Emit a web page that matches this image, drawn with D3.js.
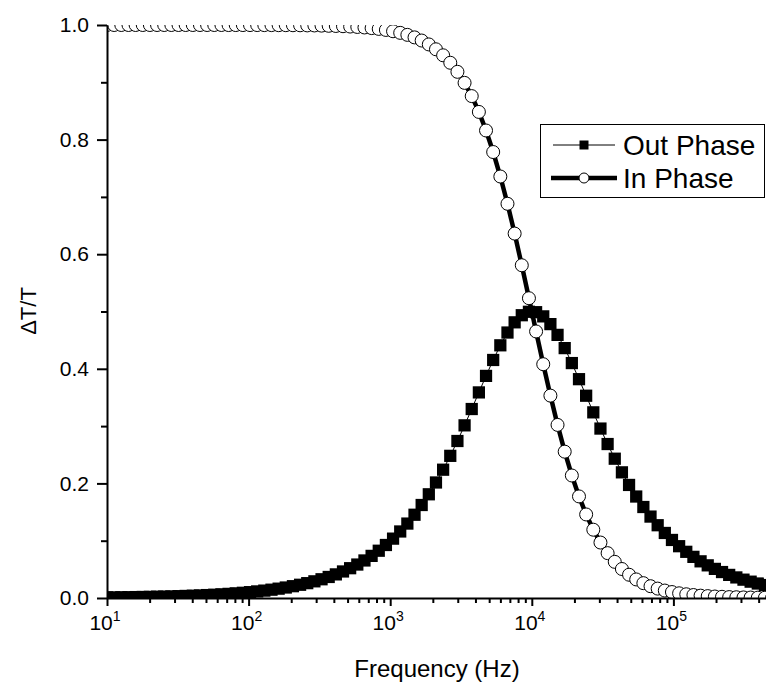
<!DOCTYPE html>
<html>
<head>
<meta charset="utf-8">
<script src="https://cdn.jsdelivr.net/npm/d3@7"></script>
<style>
html,body{margin:0;padding:0;background:#fff;}
svg{display:block;font-family:"Liberation Sans",Arial,Helvetica,sans-serif;}
</style>
</head>
<body>
<svg id="chart" width="766" height="694"></svg>
<script>
// Frequency grid (Hz)
const frequency = [
  10,11.23,12.62,14.18,15.92,17.89,20.09,22.57,25.35,28.48,
  31.99,35.94,40.37,45.35,50.94,57.22,64.28,72.21,81.11,91.12,
  102.35,114.97,129.15,145.08,162.98,183.07,205.65,231.01,259.5,291.51,
  327.45,367.84,413.2,464.16,521.4,585.7,657.93,739.07,830.22,932.6,
  1047.6,1176.8,1321.9,1485.0,1668.1,1873.8,2104.9,2364.5,2656.1,2983.6,
  3351.6,3764.9,4229.2,4750.8,5336.7,5994.8,6734.1,7564.6,8497.5,9545.5,
  10722.6,12045,13531,15199,17074,19179,21544,24201,27185,30538,
  34307,38537,43295,48626,54624,61360,68926,77430,86970,97690,
  109750,123280,138490,155560,174750,196300,220510,247700,278250,312570,
  351110,394420,443060,497700
];
// Out Phase values (ΔT/T)
const outPhase = [
  0.0010,0.0011,0.0013,0.0014,0.0016,0.0018,0.0020,0.0023,0.0025,0.0028,
  0.0032,0.0036,0.0040,0.0045,0.0051,0.0057,0.0064,0.0072,0.0081,0.0091,
  0.0102,0.0115,0.0129,0.0145,0.0163,0.0183,0.0206,0.0231,0.0259,0.0291,
  0.0327,0.0367,0.0412,0.0463,0.0520,0.0584,0.0655,0.0735,0.0825,0.0925,
  0.1036,0.1161,0.1299,0.1453,0.1623,0.1810,0.2016,0.2239,0.2481,0.2740,
  0.3013,0.3298,0.3588,0.3876,0.4154,0.4410,0.4633,0.4811,0.4935,0.4995,
  0.4988,0.4915,0.4780,0.4592,0.4361,0.4100,0.3819,0.3530,0.3240,0.2957,
  0.2687,0.2431,0.2193,0.1973,0.1771,0.1588,0.1421,0.1270,0.1135,0.1013,
  0.0904,0.0806,0.0718,0.0640,0.0570,0.0508,0.0453,0.0403,0.0359,0.0320,
  0.0285,0.0253,0.0226,0.0201
];
// In Phase values (ΔT/T)
const inPhase = [
  1.0000,1.0000,1.0000,1.0000,1.0000,1.0000,1.0000,1.0000,1.0000,1.0000,
  1.0000,1.0000,1.0000,1.0000,1.0000,1.0000,1.0000,0.9999,0.9999,0.9999,
  0.9999,0.9999,0.9998,0.9998,0.9997,0.9997,0.9996,0.9995,0.9993,0.9992,
  0.9989,0.9986,0.9983,0.9979,0.9973,0.9966,0.9957,0.9946,0.9932,0.9914,
  0.9891,0.9863,0.9828,0.9784,0.9729,0.9661,0.9576,0.9471,0.9341,0.9183,
  0.8990,0.8759,0.8483,0.8159,0.7783,0.7356,0.6880,0.6360,0.5807,0.5232,
  0.4652,0.4080,0.3532,0.3021,0.2554,0.2138,0.1773,0.1458,0.1192,0.0968,
  0.0783,0.0631,0.0506,0.0406,0.0324,0.0259,0.0206,0.0164,0.0130,0.0104,
  0.0082,0.0065,0.0052,0.0041,0.0033,0.0026,0.0021,0.0016,0.0013,0.0010,
  0.0008,0.0006,0.0005,0.0004
];
const xMajorTicks = [10,100,1000,10000,100000];
const xMajorExp = ["1","2","3","4","5"];
const xMinorTicks = [20,30,40,50,60,70,80,90,200,300,400,500,600,700,800,900,
  2000,3000,4000,5000,6000,7000,8000,9000,20000,30000,40000,50000,60000,70000,80000,90000,
  200000,300000,400000];
const yMajorTicks = [0,0.2,0.4,0.6,0.8,1.0];
const yMinorTicks = [0.1,0.3,0.5,0.7,0.9];
const seriesNames = ["Out Phase","In Phase"];

(function(){
const svg = d3.select("#chart");
const W = 766;
const mLeft = 107, mTop = 25, mBottom = 598;
const decade = 141.6;
const x = d3.scaleLog().domain([10, 5e5]).range([mLeft, mLeft + decade*Math.log10(5e4)]);
const y = d3.scaleLinear().domain([0, 1]).range([mBottom, mTop]);

svg.append("defs").append("clipPath").attr("id","plotclip")
  .append("rect").attr("x", mLeft).attr("y", mTop).attr("width", W - mLeft).attr("height", mBottom - mTop);

const data = frequency.map((f,i)=>({f, o: outPhase[i], p: inPhase[i]}));

const plot = svg.append("g").attr("clip-path","url(#plotclip)");

// Out phase
plot.append("path").datum(data)
  .attr("fill","none").attr("stroke","#000").attr("stroke-width",1)
  .attr("d", d3.line().x(d=>x(d.f)).y(d=>y(d.o)));
const sq = d3.symbol().type(d3.symbolSquare).size(150);
plot.append("g").selectAll("path").data(data).join("path")
  .attr("transform", d=>`translate(${x(d.f)},${y(d.o)})`)
  .attr("d", sq).attr("fill","#000");

// In phase
plot.append("path").datum(data)
  .attr("fill","none").attr("stroke","#000").attr("stroke-width",4.5)
  .attr("d", d3.line().x(d=>x(d.f)).y(d=>y(d.p)));
plot.append("g").selectAll("circle").data(data).join("circle")
  .attr("cx", d=>x(d.f)).attr("cy", d=>y(d.p)).attr("r",6.5)
  .attr("fill","#fff").attr("stroke","#000").attr("stroke-width",1);

// Axes
const xMajor = svg.append("g").attr("transform",`translate(0,${mBottom})`)
  .call(d3.axisBottom(x).tickValues(xMajorTicks).tickSize(8).tickSizeOuter(0).tickFormat(""));
const xMinor = svg.append("g").attr("transform",`translate(0,${mBottom})`)
  .call(d3.axisBottom(x).tickValues(xMinorTicks).tickSize(5).tickSizeOuter(0).tickFormat(""));
xMinor.select(".domain").remove();
[xMajor,xMinor].forEach(g=>{
  g.selectAll("line").attr("stroke","#000").attr("stroke-width",2);
  g.select(".domain").attr("stroke","#000").attr("stroke-width",2);
});
const xl = svg.append("g");
xMajorTicks.forEach((t,i)=>{
  const tx = xl.append("text").attr("x", x(t)-2).attr("y", 630)
    .attr("text-anchor","middle").attr("font-size",21).attr("fill","#000");
  tx.append("tspan").text("10");
  tx.append("tspan").attr("dy",-9).attr("font-size",14).text(xMajorExp[i]);
});

const yMajor = svg.append("g").attr("transform",`translate(${mLeft},0)`)
  .call(d3.axisLeft(y).tickValues(yMajorTicks).tickSize(10).tickSizeOuter(0).tickPadding(8).tickFormat(d3.format(".1f")));
const yMinor = svg.append("g").attr("transform",`translate(${mLeft},0)`)
  .call(d3.axisLeft(y).tickValues(yMinorTicks).tickSize(6).tickSizeOuter(0).tickFormat(""));
yMinor.select(".domain").remove();
[yMajor,yMinor].forEach(g=>{
  g.selectAll("line").attr("stroke","#000").attr("stroke-width",2);
  g.select(".domain").attr("stroke","#000").attr("stroke-width",2);
});
yMajor.selectAll("text").attr("font-size",21).attr("fill","#000")
  .attr("font-family",'"Liberation Sans",Arial,sans-serif');

// Titles
svg.append("text").attr("x", 437).attr("y", 677).attr("text-anchor","middle")
  .attr("font-size",24).attr("fill","#000").text("Frequency (Hz)");
svg.append("text").attr("transform","translate(36,311) rotate(-90)")
  .attr("text-anchor","middle").attr("font-size",22).attr("fill","#000").text("ΔT/T");

// Legend
const lg = svg.append("g");
lg.append("rect").attr("x",540.5).attr("y",124.5).attr("width",224).attr("height",73)
  .attr("fill","#fff").attr("stroke","#000").attr("stroke-width",1);
const rows = [145, 178];
lg.append("line").attr("x1",553).attr("x2",615).attr("y1",rows[0]).attr("y2",rows[0])
  .attr("stroke","#000").attr("stroke-width",1);
lg.append("path").attr("transform",`translate(584,${rows[0]})`)
  .attr("d", d3.symbol().type(d3.symbolSquare).size(81)).attr("fill","#000");
lg.append("line").attr("x1",551).attr("x2",617).attr("y1",rows[1]).attr("y2",rows[1])
  .attr("stroke","#000").attr("stroke-width",4.5);
lg.append("circle").attr("cx",584).attr("cy",rows[1]).attr("r",5)
  .attr("fill","#fff").attr("stroke","#000").attr("stroke-width",1);
seriesNames.forEach((n,i)=>{
  lg.append("text").attr("x",623).attr("y",rows[i]).attr("dy","0.36em")
    .attr("font-size",28).attr("fill","#000").text(n);
});
})();
</script>
</body>
</html>
